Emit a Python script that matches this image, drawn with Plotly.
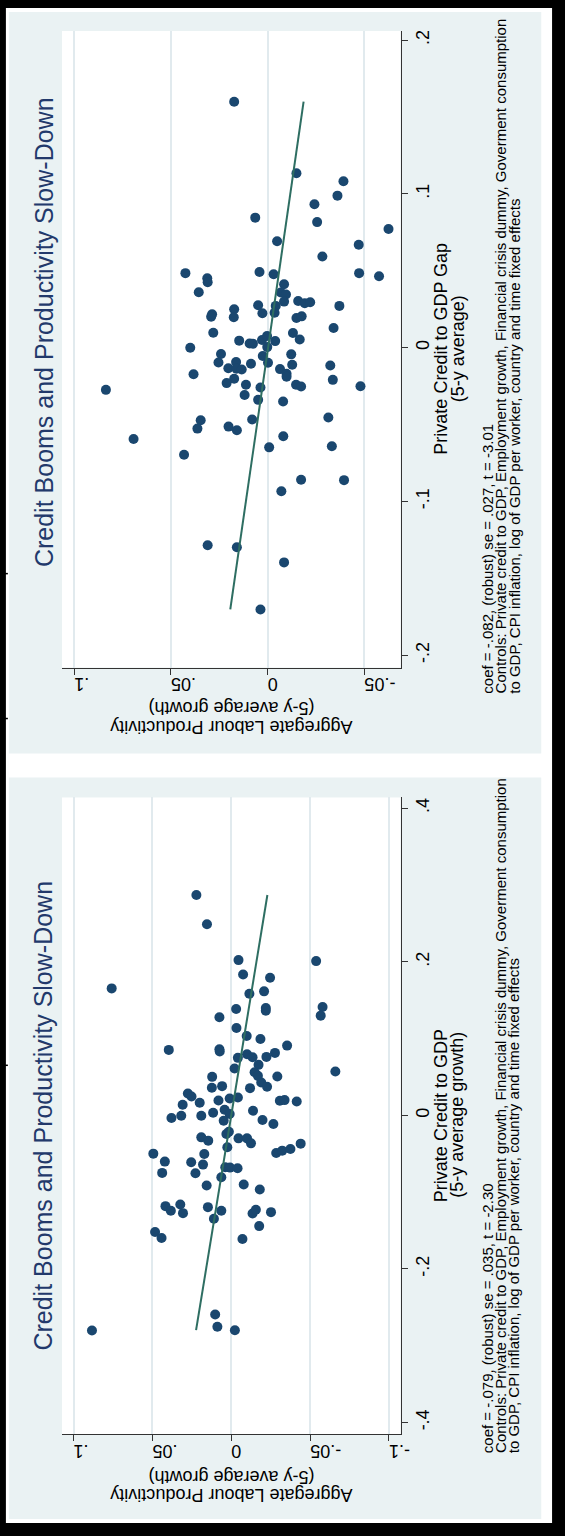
import plotly.graph_objects as go

# ---------------- data ----------------
# Top panel: Private Credit to GDP Gap (5-y average) vs productivity growth
gap_prod = [0.0173, -0.0149, -0.0392, -0.0361, -0.0242, 0.0064, -0.0256, -0.0625, -0.0049, -0.0471,
            -0.0283, 0.0425, 0.0042, -0.0031, -0.0473, -0.0576, 0.0312, 0.0310, 0.0356, -0.0085,
            -0.0068, -0.0095, -0.0085, -0.0158, -0.0192, -0.0220, -0.0371, 0.0049, -0.0042, 0.0173,
            0.0027, -0.0036, 0.0287, 0.0292, 0.0175, -0.0149, -0.0176, -0.0341, 0.0281, -0.0131,
            0.0147, 0.0093, 0.0076, 0.0029, 0.0003, -0.0039, -0.0166, 0.0400, 0.0002,
            0.0241, 0.0025, -0.0122, 0.0254, 0.0163, 0.0086, -0.0002, -0.0127, -0.0324, 0.0203,
            0.0161, 0.0134, -0.0064, -0.0098, -0.0098, 0.0383, 0.0173, -0.0337, 0.0212, 0.0112,
            0.0037, -0.0147, -0.0173, -0.0480, 0.0836, 0.0119, 0.0049, -0.0080, -0.0314, 0.0346,
            0.0363, 0.0202, 0.0159, 0.0080, 0.0693, -0.0081, 0.0432, -0.0008, -0.0332, -0.0173,
            -0.0395, -0.0071, 0.0310, 0.0159, -0.0085, 0.0037]
gap_credit = [0.1600, 0.1135, 0.1083, 0.0989, 0.0933, 0.0846, 0.0817, 0.0772, 0.0693, 0.0670,
              0.0593, 0.0485, 0.0493, 0.0478, 0.0485, 0.0465, 0.0452, 0.0426, 0.0361, 0.0413,
              0.0359, 0.0346, 0.0300, 0.0304, 0.0289, 0.0296, 0.0272, 0.0276, 0.0272, 0.0250,
              0.0224, 0.0228, 0.0217, 0.0202, 0.0198, 0.0193, 0.0204, 0.0128, 0.0098, 0.0096,
              0.0046, 0.0028, 0.0026, 0.0050, 0.0076, 0.0043, 0.0054, 0.0000, 0.0004,
              -0.0041, -0.0054, -0.0043, -0.0096, -0.0093, -0.0104, -0.0098, -0.0111, -0.0115, -0.0133,
              -0.0137, -0.0141, -0.0139, -0.0170, -0.0189, -0.0172, -0.0202, -0.0209, -0.0230, -0.0241,
              -0.0259, -0.0241, -0.0252, -0.0250, -0.0274, -0.0307, -0.0339, -0.0350, -0.0454, -0.0472,
              -0.0526, -0.0513, -0.0537, -0.0467, -0.0593, -0.0576, -0.0696, -0.0648, -0.0641, -0.0859,
              -0.0861, -0.0933, -0.1285, -0.1298, -0.1396, -0.1702]
gap_fit_credit = [-0.1702, 0.1600]
gap_fit_prod = [0.0193, -0.0186]

# Bottom panel: Private Credit to GDP (5-y average growth) vs productivity growth
gro_prod = [0.0221, 0.0154, 0.0758, -0.0046, -0.0538, -0.0075, -0.0246, -0.0115, -0.0208, -0.0219,
            -0.0219, -0.0579, -0.0567, -0.0031, 0.0075, -0.0033, -0.0098, -0.0185, 0.0396, 0.0075,
            0.0073, -0.0354, -0.0100, -0.0135, -0.0042, -0.0223, -0.0277, -0.0660, -0.0021, -0.0173,
            -0.0148, -0.0169, -0.0292, 0.0121, 0.0058, 0.0123, -0.0119, -0.0190, -0.0227, 0.0275,
            0.0252, 0.0200, 0.0308, 0.0081, 0.0010, -0.0042, -0.0308, -0.0338, -0.0415, -0.0138,
            0.0379, 0.0317, 0.0190, 0.0115, 0.0042, 0.0010, -0.0198,
            0.0048, -0.0267, 0.0031, 0.0015, 0.0190, 0.0146, -0.0046, -0.0100, -0.0125, 0.0025,
            0.0494, 0.0171, -0.0285, -0.0323, -0.0375, -0.0440, 0.0421, 0.0254, 0.0179, 0.0438,
            0.0227, 0.0038, 0.0008, -0.0040, 0.0063, 0.0156, -0.0079, -0.0181, 0.0417, 0.0383,
            0.0323, 0.0306, 0.0148, 0.0063, 0.0110, -0.0135, -0.0156, -0.0252, 0.0483, 0.0442,
            -0.0177, -0.0071, 0.0102, 0.0088, -0.0023, 0.0883]
gro_credit = [0.2870, 0.2489, 0.1654, 0.2022, 0.2009, 0.1835, 0.1792, 0.1584, 0.1615, 0.1398,
              0.1364, 0.1411, 0.1299, 0.1385, 0.1277, 0.1139, 0.1035, 0.0996, 0.0853, 0.0861,
              0.0831, 0.0909, 0.0797, 0.0758, 0.0749, 0.0762, 0.0814, 0.0571, 0.0610, 0.0658,
              0.0563, 0.0515, 0.0506, 0.0502, 0.0381, 0.0359, 0.0355, 0.0429, 0.0372, 0.0286,
              0.0247, 0.0165, 0.0139, 0.0195, 0.0221, 0.0234, 0.0190, 0.0199, 0.0182, 0.0061,
              -0.0035, -0.0004, -0.0004, 0.0035, 0.0074, 0.0017, -0.0061,
              -0.0069, -0.0113, -0.0242, -0.0212, -0.0286, -0.0329, -0.0299, -0.0299, -0.0364, -0.0416,
              -0.0498, -0.0502, -0.0489, -0.0459, -0.0437, -0.0368, -0.0602, -0.0610, -0.0641, -0.0749,
              -0.0753, -0.0675, -0.0680, -0.0688, -0.0805, -0.0913, -0.0900, -0.0965, -0.1182, -0.1242,
              -0.1160, -0.1273, -0.1195, -0.1242, -0.1346, -0.1277, -0.1229, -0.1260, -0.1519, -0.1597,
              -0.1442, -0.1610, -0.2593, -0.2753, -0.2797, -0.2801]
gro_fit_credit = [-0.2797, 0.2870]
gro_fit_prod = [0.0223, -0.0229]

prod_ticks_top = [0.1, 0.05, 0.0, -0.05]
prod_labels_top = [".1", ".05", "0", "-.05"]
prod_ticks_bot = [0.1, 0.05, 0.0, -0.05, -0.1]
prod_labels_bot = [".1", ".05", "0", "-.05", "-.1"]
gap_ticks = [-0.2, -0.1, 0.0, 0.1, 0.2]
gap_labels = ["-.2", "-.1", "0", ".1", ".2"]
gro_ticks = [-0.4, -0.2, 0.0, 0.2, 0.4]
gro_labels = ["-.4", "-.2", "0", ".2", ".4"]

title_text = "Credit Booms and Productivity Slow-Down"
prod_title = ["(5-y average growth)", "Aggregate Labour Productivity"]
gap_title = ["Private Credit to GDP Gap", "(5-y average)"]
gro_title = ["Private Credit to GDP", "(5-y average growth)"]
notes_top = ["coef = -.082, (robust) se = .027, t = -3.01",
             "Controls: Private credit to GDP, Employment growth, Financial crisis dummy, Goverment consumption",
             "to GDP, CPI inflation, log of GDP per worker, country and time fixed effects"]
notes_bot = ["coef = -.079, (robust) se = .035, t = -2.30",
             "Controls: Private credit to GDP, Employment growth, Financial crisis dummy, Goverment consumption",
             "to GDP, CPI inflation, log of GDP per worker, country and time fixed effects"]

# ---------------- layout geometry (pixels) ----------------
W, H = 565, 1536
FONT = "Liberation Sans, Arial, Helvetica, sans-serif"
NAVY = "#1a476f"
LINEC = "#2e6e62"
PANEL = "#eaf2f3"
GRID = "#e1eaee"
TITLEC = "#22396b"


def px(x):
    return x / W


def py(y):
    return 1 - y / H


PL, PR = 63, 407
TOP = (30, 667)
BOT = (797, 1434)

fig = go.Figure()

fig.add_trace(go.Scatter(x=gap_prod, y=gap_credit, mode="markers", xaxis="x", yaxis="y",
                         marker=dict(color=NAVY, size=10, line=dict(width=0)), showlegend=False))
fig.add_trace(go.Scatter(x=gap_fit_prod, y=gap_fit_credit, mode="lines", xaxis="x", yaxis="y",
                         line=dict(color=LINEC, width=2), showlegend=False))
fig.add_trace(go.Scatter(x=gro_prod, y=gro_credit, mode="markers", xaxis="x2", yaxis="y2",
                         marker=dict(color=NAVY, size=10, line=dict(width=0)), showlegend=False))
fig.add_trace(go.Scatter(x=gro_fit_prod, y=gro_fit_credit, mode="lines", xaxis="x2", yaxis="y2",
                         line=dict(color=LINEC, width=2), showlegend=False))

tickfont = dict(family=FONT, size=18, color="black")
common_x = dict(showline=True, linecolor="#333333", linewidth=1, ticks="outside", ticklen=6,
                tickcolor="#333333", tickwidth=1, tickangle=180, showgrid=True, gridcolor=GRID,
                gridwidth=1.5, zeroline=False, tickfont=tickfont, tickmode="array")
common_y = dict(showline=True, linecolor="#333333", linewidth=1, ticks="outside", ticklen=6,
                tickcolor="#333333", tickwidth=1, tickangle=-90, showgrid=False, zeroline=False,
                side="right", tickfont=tickfont, tickmode="array")

fig.update_layout(
    width=W, height=H, margin=dict(l=0, r=0, t=0, b=0),
    paper_bgcolor="black", plot_bgcolor="rgba(0,0,0,0)",
    xaxis=dict(domain=[px(PL), px(PR)], anchor="y", range=[0.1063, -0.0687],
               tickvals=prod_ticks_top, ticktext=prod_labels_top, **common_x),
    yaxis=dict(domain=[py(TOP[1]), py(TOP[0])], anchor="x", range=[-0.208, 0.206],
               tickvals=gap_ticks, ticktext=gap_labels, **common_y),
    xaxis2=dict(domain=[px(PL), px(PR)], anchor="y2", range=[0.1073, -0.1073],
                tickvals=prod_ticks_bot, ticktext=prod_labels_bot, **common_x),
    yaxis2=dict(domain=[py(BOT[1]), py(BOT[0])], anchor="x2", range=[-0.415, 0.414],
                tickvals=gro_ticks, ticktext=gro_labels, **common_y),
)

shapes = []


def rect(x0, y0, x1, y1, color):
    shapes.append(dict(type="rect", xref="paper", yref="paper", x0=px(x0), x1=px(x1),
                       y0=py(y1), y1=py(y0), fillcolor=color, line=dict(width=0), layer="below"))


rect(6, 7, 561, 1523, "white")
rect(9, 11, 550, 753, PANEL)
rect(9, 777, 550, 1519, PANEL)
rect(PL, TOP[0], PR, TOP[1], "white")
rect(PL, BOT[0], PR, BOT[1], "white")
for yy in [573, 718, 1065]:
    shapes.append(dict(type="line", xref="paper", yref="paper", x0=px(0), x1=px(8),
                       y0=py(yy), y1=py(yy), line=dict(color="black", width=1.5)))
fig.update_layout(shapes=shapes)

ann = []


def text(x, y, s, size, angle, color="black", xanchor="center", yanchor="middle"):
    ann.append(dict(x=px(x), y=py(y), xref="paper", yref="paper", text=s, showarrow=False,
                    textangle=angle, xanchor=xanchor, yanchor=yanchor,
                    font=dict(family=FONT, size=size, color=color)))


for (ctr, mid, c_title, notes, prod_y, note_start) in [
        (331, 348, gap_title, notes_top, (708, 727), 695),
        (1115, 1115, gro_title, notes_bot, (1477, 1495), 1455)]:
    text(44, ctr, title_text, 25, -90, TITLEC)
    text(448, mid, c_title[0], 18, -90)
    text(465, mid, c_title[1], 18, -90)
    text(235, prod_y[0], prod_title[0], 18, 180)
    text(235, prod_y[1], prod_title[1], 18, 180)
    for i, line in enumerate(notes):
        text(495 + 13.5 * i, note_start, line, 15, -90, yanchor="bottom")

fig.update_layout(annotations=ann)
fig.write_html("out.html", config={"displayModeBar": False},
               post_script="document.body.style.margin='0';document.body.style.overflow='hidden';")
